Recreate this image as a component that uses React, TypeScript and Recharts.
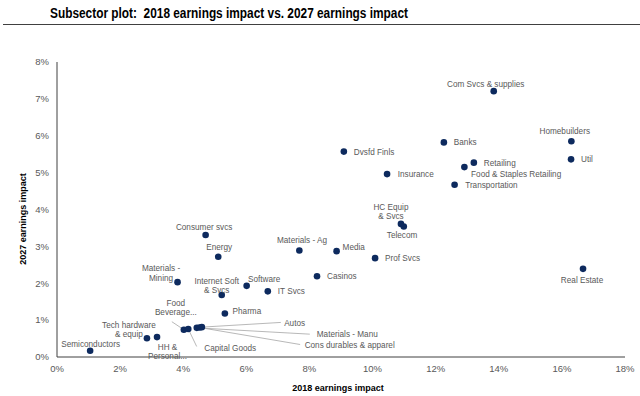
import { ScatterChart, Scatter, XAxis, YAxis } from 'recharts';

const sectors = [
  'Semiconductors', 'Tech hardware & equip', 'HH & Personal...', 'Food Beverage...', 'Capital Goods',
  'Materials - Manu', 'Cons durables & apparel', 'Autos', 'Pharma', 'Internet Soft & Svcs',
  'Software', 'IT Svcs', 'Materials - Mining', 'Energy', 'Consumer svcs',
  'Materials - Ag', 'Media', 'Casinos', 'Prof Svcs', 'HC Equip & Svcs',
  'Telecom', 'Dvsfd Finls', 'Insurance', 'Banks', 'Retailing',
  'Food & Staples Retailing', 'Transportation', 'Com Svcs & supplies', 'Homebuilders', 'Util',
  'Real Estate',
];
const impact2018 = [
  1.05, 2.85, 3.17, 4.02, 4.16,
  4.43, 4.52, 4.59, 5.32, 5.22,
  6.01, 6.68, 3.82, 5.11, 4.71,
  7.68, 8.86, 8.24, 10.08, 10.9,
  10.99, 9.09, 10.46, 12.26, 13.21,
  12.91, 12.6, 13.84, 16.3, 16.29,
  16.67,
];
const impact2027 = [
  0.17, 0.51, 0.54, 0.74, 0.76,
  0.79, 0.8, 0.81, 1.18, 1.68,
  1.93, 1.78, 2.03, 2.72, 3.31,
  2.89, 2.87, 2.19, 2.68, 3.61,
  3.54, 5.57, 4.96, 5.82, 5.27,
  5.15, 4.67, 7.21, 5.85, 5.36,
  2.39,
];
const xTicks = [0, 2, 4, 6, 8, 10, 12, 14, 16, 18];
const yTicks = [0, 1, 2, 3, 4, 5, 6, 7, 8];

const points = sectors.map((name, i) => ({ name, x: impact2018[i], y: impact2027[i] }));

// label placement relative to each dot (pixels)
type LabelPos = { dx: number; dy: number[]; anchor: 'start' | 'middle' | 'end'; lines?: string[]; lead?: [number, number] };
const labelLayout: Record<string, LabelPos> = {
  'Semiconductors': { dx: 0.5, dy: [-7], anchor: 'middle' },
  'Tech hardware & equip': { dx: -18, dy: [-13, -4.5], anchor: 'middle', lines: ['Tech hardware', '& equip'] },
  'HH & Personal...': { dx: 10.5, dy: [9.7, 19], anchor: 'middle', lines: ['HH &', 'Personal...'] },
  'Food Beverage...': { dx: -8, dy: [-26.5, -17.3], anchor: 'middle', lines: ['Food', 'Beverage...'], lead: [-12, -8] },
  'Capital Goods': { dx: 16, dy: [19], anchor: 'start', lead: [8.4, 17.5] },
  'Materials - Manu': { dx: 120, dy: [6.3], anchor: 'start', lead: [113, 6.3] },
  'Cons durables & apparel': { dx: 105, dy: [17.7], anchor: 'start', lead: [100.5, 17] },
  'Autos': { dx: 82.3, dy: [-4.5], anchor: 'start', lead: [79, -4.7] },
  'Pharma': { dx: 7.7, dy: [-2.3], anchor: 'start' },
  'Internet Soft & Svcs': { dx: -5, dy: [-14.3, -5.3], anchor: 'middle', lines: ['Internet Soft', '& Svcs'] },
  'Software': { dx: 1.3, dy: [-7], anchor: 'start' },
  'IT Svcs': { dx: 10, dy: [0], anchor: 'start' },
  'Materials - Mining': { dx: -16.5, dy: [-14, -4.3], anchor: 'middle', lines: ['Materials -', 'Mining'] },
  'Energy': { dx: 1, dy: [-10], anchor: 'middle' },
  'Consumer svcs': { dx: -1.5, dy: [-8], anchor: 'middle' },
  'Materials - Ag': { dx: 2.7, dy: [-10.3], anchor: 'middle' },
  'Media': { dx: 6, dy: [-4.6], anchor: 'start' },
  'Casinos': { dx: 10, dy: [0], anchor: 'start' },
  'Prof Svcs': { dx: 10, dy: [0], anchor: 'start' },
  'HC Equip & Svcs': { dx: -10, dy: [-17, -8], anchor: 'middle', lines: ['HC Equip', '& Svcs'] },
  'Telecom': { dx: -1.7, dy: [8.7], anchor: 'middle' },
  'Dvsfd Finls': { dx: 10, dy: [0.6], anchor: 'start' },
  'Insurance': { dx: 10.7, dy: [0.3], anchor: 'start' },
  'Banks': { dx: 10, dy: [0], anchor: 'start' },
  'Retailing': { dx: 10, dy: [0], anchor: 'start' },
  'Food & Staples Retailing': { dx: 6.7, dy: [7.3], anchor: 'start' },
  'Transportation': { dx: 10.6, dy: [0], anchor: 'start' },
  'Com Svcs & supplies': { dx: -8, dy: [-7], anchor: 'middle' },
  'Homebuilders': { dx: -6.6, dy: [-10], anchor: 'middle' },
  'Util': { dx: 10, dy: [0], anchor: 'start' },
  'Real Estate': { dx: -1, dy: [10.7], anchor: 'middle' },
};

const FONT = '"Liberation Sans", Arial, sans-serif';

const SectorDot = (props: any) => {
  const { cx, cy, payload } = props;
  const lay = labelLayout[payload.name];
  const lines = lay.lines ?? [payload.name];
  return (
    <g>
      {lay.lead && (
        <line x1={cx} y1={cy} x2={cx + lay.lead[0]} y2={cy + lay.lead[1]} stroke="#a6a6a6" strokeWidth={0.8} />
      )}
      <circle cx={cx} cy={cy} r={3.3} fill="#0d2a5e" />
      <text fontSize={8.2} fontFamily={FONT} fill="#595959" textAnchor={lay.anchor} dominantBaseline="central">
        {lines.map((l, i) => (
          <tspan key={i} x={cx + lay.dx} y={cy + lay.dy[i]}>{l}</tspan>
        ))}
      </text>
    </g>
  );
};

export default function App() {
  return (
    <div style={{ position: 'absolute', left: 0, top: 0, width: 640, height: 396, background: '#fff' }}>
      <ScatterChart width={640} height={396} margin={{ top: 62, right: 15, bottom: 0, left: 0 }}>
        <XAxis
          type="number"
          dataKey="x"
          domain={[0, 18]}
          ticks={xTicks}
          tickFormatter={(v) => `${v}%`}
          height={39}
          tickLine={false}
          axisLine={{ stroke: '#404040' }}
          tick={{ fontSize: 9.5, fill: '#595959', fontFamily: FONT }}
        />
        <YAxis
          type="number"
          dataKey="y"
          domain={[0, 8]}
          ticks={yTicks}
          tickFormatter={(v) => `${v}%`}
          width={57}
          tickLine={false}
          axisLine={{ stroke: '#404040' }}
          tick={{ fontSize: 9.5, fill: '#595959', fontFamily: FONT }}
        />
        <Scatter data={points} shape={SectorDot} isAnimationActive={false} />
      </ScatterChart>
      <svg width={640} height={396} style={{ position: 'absolute', left: 0, top: 0, pointerEvents: 'none' }}>
        <text x={50} y={17.5} fontSize={14.5} fontWeight="bold" fontFamily={FONT} fill="#000" textLength={358} lengthAdjust="spacingAndGlyphs" style={{ whiteSpace: 'pre' }}>
          {'Subsector plot:  2018 earnings impact vs. 2027 earnings impact'}
        </text>
        <line x1={3} x2={640} y1={24.5} y2={24.5} stroke="#404040" strokeWidth={1.2} />
        <text x={338} y={388} fontSize={9} fontWeight="bold" fontFamily={FONT} fill="#000" textAnchor="middle" dominantBaseline="central">
          2018 earnings impact
        </text>
        <text x={23} y={219} fontSize={9} fontWeight="bold" fontFamily={FONT} fill="#000" textAnchor="middle" dominantBaseline="central" transform="rotate(-90 23 219)">
          2027 earnings impact
        </text>
      </svg>
    </div>
  );
}
